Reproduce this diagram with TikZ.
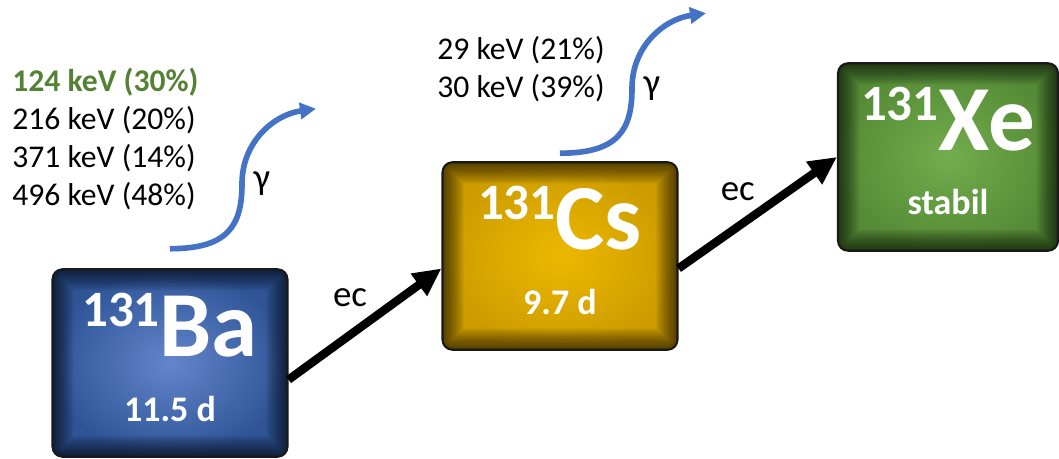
\documentclass[tikz,border=0pt]{standalone}
\usepackage{fontspec}
\setmainfont{Carlito}
\usetikzlibrary{arrows.meta,positioning,calc}
\definecolor{gammablue}{HTML}{4472C4}
\definecolor{keygreen}{HTML}{548235}
\definecolor{bahi}{HTML}{6485CC}
\definecolor{bamid}{HTML}{2F5597}
\definecolor{cshi}{HTML}{EDB800}
\definecolor{csmid}{HTML}{CC9C00}
\definecolor{xehi}{HTML}{72AD4D}
\definecolor{xemid}{HTML}{558B36}
\newcommand{\isotope}[2]{\raisebox{17pt}{\fontsize{29}{29}\selectfont #1}\fontsize{53}{53}\selectfont #2}

\begin{document}
\begin{tikzpicture}[x=0.02cm, y=-0.02cm,
    isobox/.style={minimum width=4.7cm, minimum height=3.75cm, rounded corners=0.2cm, draw=black!90, line width=1.2pt,
      path picture={\foreach \w in {1,...,14}
        \draw[black, opacity=0.055, line width=0.06*\w cm, rounded corners=0.2cm]
          (path picture bounding box.south west) rectangle (path picture bounding box.north east);}},
    elem/.style={anchor=base, text=white, font=\bfseries, inner sep=0pt},
    halflife/.style={text=white, inner sep=0pt, font=\bfseries\fontsize{20.5}{20.5}\selectfont},
    ecarrow/.style={-{Triangle[length=0.56cm,width=0.52cm]}, line width=4.8pt},
    eclbl/.style={inner sep=0pt, font=\fontsize{21}{21}\selectfont},
    gamarrow/.style={-{Triangle[length=0.32cm,width=0.32cm]}, draw=gammablue, line width=3.2pt},
    gamlbl/.style={right=5pt, inner sep=0pt, text=black, font=\fontsize{21}{21}\selectfont},
    lines/.style={anchor=west, align=left, inner sep=0pt, font=\fontsize{18}{21.5}\selectfont},
]
\useasboundingbox (0,0) rectangle (1059,459);

% nuclides
\node[isobox, inner color=bahi, outer color=bamid] (ba) at (170,363) {};
\node[isobox, inner color=cshi, outer color=csmid] (cs) at (560,256) {};
\node[isobox, inner color=xehi, outer color=xemid, minimum width=4.4cm] (xe) at (948,157) {};

\node[elem] (baname) at ([yshift=-1.76cm]ba.north) {\isotope{131}{Ba}};
\node[halflife] (bahalf) at ([yshift=-2.82cm]ba.north) {11.5 d};
\node[elem] (csname) at ([yshift=-1.76cm]cs.north) {\isotope{131}{Cs}};
\node[halflife] (cshalf) at ([yshift=-2.82cm]cs.north) {9.7 d};
\node[elem] (xename) at ([yshift=-1.76cm]xe.north) {\isotope{131}{Xe}};
\node[halflife] (xehalf) at ([yshift=-2.8cm]xe.north) {stabil};

% electron capture
\draw[ecarrow] (ba.-8) -- (cs.186) node[eclbl, midway, xshift=-0.3cm, yshift=0.52cm] {ec};
\draw[ecarrow] (cs.-6) -- (xe.west) node[eclbl, midway, xshift=-0.4cm, yshift=0.42cm] {ec};

% gamma lines
\coordinate (bagam) at ([yshift=0.39cm]ba.north);
\coordinate (csgam) at ([yshift=0.16cm]cs.north);
\draw[gamarrow] (bagam) .. controls +(58,0) and +(0,42) .. ++(72,-65) node[gamlbl] {γ}
  .. controls +(0,-42) and +(-42,6) .. ++(74,-75);
\draw[gamarrow] (csgam) .. controls +(58,0) and +(0,42) .. ++(72,-65) node[gamlbl] {γ}
  .. controls +(0,-42) and +(-42,6) .. ++(74,-75);

\node[lines] (balines) at (12,139) {\textcolor{keygreen}{\bfseries 124 keV (30\%)}\\216 keV (20\%)\\371 keV (14\%)\\496 keV (48\%)};
\node[lines] (cslines) at (437,69) {29 keV (21\%)\\30 keV (39\%)};
\end{tikzpicture}
\end{document}
